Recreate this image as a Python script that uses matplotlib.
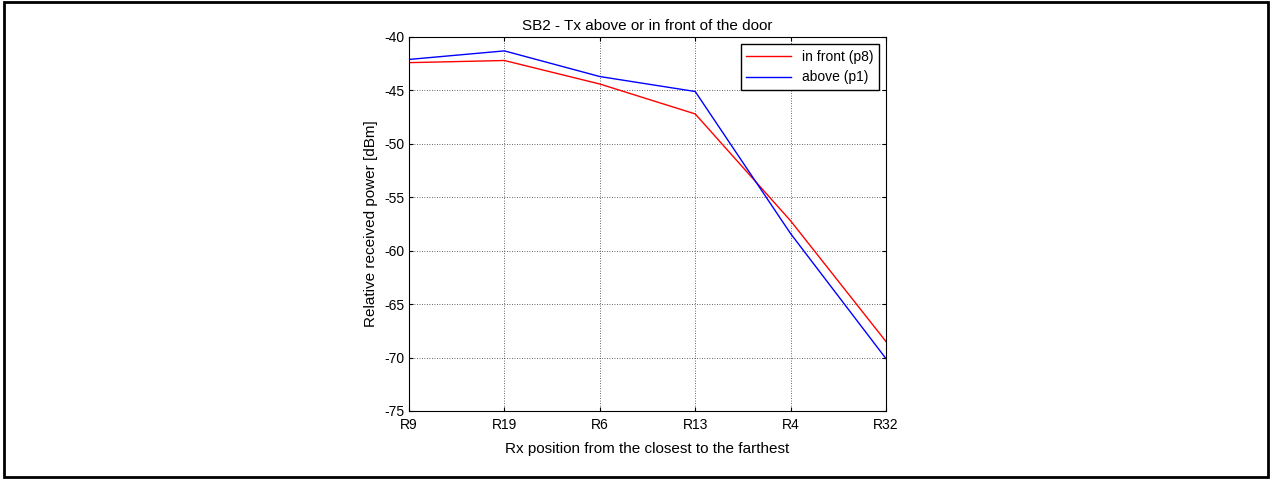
import matplotlib.pyplot as plt
from matplotlib.patches import Rectangle

plt.rcParams['font.family'] = ['Liberation Sans', 'DejaVu Sans']
plt.rcParams['axes.unicode_minus'] = False

# Receiver positions, closest to farthest
positions = ['R9', 'R19', 'R6', 'R13', 'R4', 'R32']
# Relative received power [dBm]
in_front_p8 = [-42.4, -42.2, -44.4, -47.2, -57.2, -68.5]
above_p1 = [-42.1, -41.3, -43.7, -45.1, -58.4, -70.1]


def main():
    fig = plt.figure(figsize=(12.71, 4.79), dpi=100)
    ax = fig.add_axes([409 / 1271, 1 - 411 / 479, 477 / 1271, 374 / 479])

    x = range(len(positions))
    ax.plot(x, in_front_p8, color='red', lw=1.0, label='in front (p8)')
    ax.plot(x, above_p1, color='blue', lw=1.0, label='above (p1)')

    ax.set_xlim(0, len(positions) - 1)
    ax.set_ylim(-75, -40)
    ax.set_xticks(list(x))
    ax.set_xticklabels(positions)
    ax.set_yticks(range(-75, -39, 5))
    ax.tick_params(direction='in', top=True, right=True, labelsize=10,
                   length=3, width=0.8)
    ax.tick_params(axis='x', pad=5)
    ax.tick_params(axis='y', pad=3)
    ax.grid(True, color='black', linestyle=(0, (1, 2)), linewidth=0.6, alpha=0.8)
    for s in ax.spines.values():
        s.set_linewidth(0.8)

    ax.set_title('SB2 - Tx above or in front of the door', fontsize=11, pad=5)
    ax.set_xlabel('Rx position from the closest to the farthest', fontsize=11, labelpad=7)
    ax.set_ylabel('Relative received power [dBm]', fontsize=11, labelpad=5)

    leg = ax.legend(loc='upper right', fontsize=10, fancybox=False,
                    framealpha=1, edgecolor='black', borderaxespad=0.5,
                    handlelength=3.2, borderpad=0.4, labelspacing=0.5)
    leg.get_frame().set_linewidth(1.0)

    # frame around the whole figure
    fig.patches.append(Rectangle((4 / 1271, 2 / 479), 1264 / 1271, 475 / 479,
                                 transform=fig.transFigure, fill=False,
                                 edgecolor='black', linewidth=2.0))

    fig.savefig('out.png', dpi=100)
    plt.close(fig)


if __name__ == '__main__':
    main()
